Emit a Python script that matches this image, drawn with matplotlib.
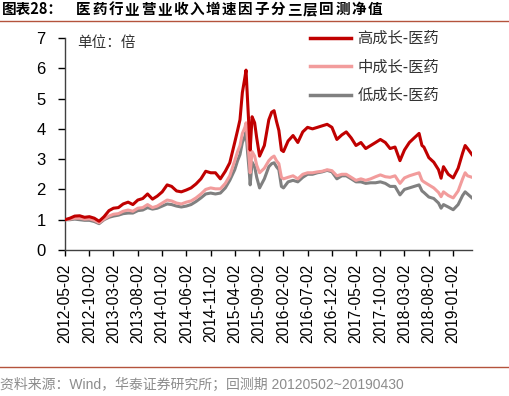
import matplotlib
matplotlib.use('Agg')
import matplotlib.pyplot as plt
import matplotlib.dates as mdates
import pandas as pd

# 回测净值（按图读数，约每月一个点，2015年加密）
dates = [
    '2012-05-02', '2012-06-02', '2012-07-02', '2012-08-02', '2012-09-02', '2012-10-02',
    '2012-11-02', '2012-12-02', '2013-01-02', '2013-02-02', '2013-03-02', '2013-04-02',
    '2013-05-02', '2013-06-02', '2013-07-02', '2013-08-02', '2013-09-02', '2013-10-02',
    '2013-11-02', '2013-12-02', '2014-01-02', '2014-02-02', '2014-03-02', '2014-04-02',
    '2014-05-02', '2014-06-02', '2014-07-02', '2014-08-02', '2014-09-02', '2014-10-02',
    '2014-11-02', '2014-12-02', '2015-01-02', '2015-02-02', '2015-03-02', '2015-04-02',
    '2015-04-20', '2015-05-05', '2015-05-20', '2015-06-05', '2015-06-12', '2015-06-22',
    '2015-07-02', '2015-07-08', '2015-07-20', '2015-08-05', '2015-08-18', '2015-09-05',
    '2015-10-05', '2015-11-02', '2015-11-20', '2015-12-05', '2015-12-20', '2016-01-04',
    '2016-01-20', '2016-02-02', '2016-03-02', '2016-04-02', '2016-05-02', '2016-06-02',
    '2016-07-02', '2016-08-02', '2016-09-02', '2016-10-02', '2016-11-02', '2016-12-02',
    '2017-01-02', '2017-02-02', '2017-03-02', '2017-04-02', '2017-05-02', '2017-06-02',
    '2017-07-02', '2017-08-02', '2017-09-02', '2017-10-02', '2017-11-02', '2017-12-02',
    '2018-01-02', '2018-02-02', '2018-03-02', '2018-04-02', '2018-05-02', '2018-06-02',
    '2018-06-20', '2018-07-02', '2018-08-02', '2018-09-02', '2018-10-02', '2018-10-18',
    '2018-11-02', '2018-12-02', '2019-01-02', '2019-02-02', '2019-03-02', '2019-03-18',
    '2019-04-02', '2019-04-30',
]
high = [
    1.00, 1.05, 1.12, 1.13, 1.08, 1.10, 1.05, 0.95, 1.10, 1.30, 1.38, 1.40,
    1.52, 1.58, 1.50, 1.65, 1.70, 1.85, 1.68, 1.78, 1.92, 2.15, 2.10, 1.95,
    1.92, 1.98, 2.05, 2.18, 2.35, 2.60, 2.55, 2.55, 2.35, 2.60, 2.88, 3.55,
    3.95, 4.30, 5.20, 5.70, 5.94, 4.90, 3.90, 3.30, 4.40, 4.20, 3.70, 3.10,
    3.45, 4.30, 4.55, 4.60, 4.25, 3.95, 3.30, 3.25, 3.60, 3.78, 3.55, 3.90,
    4.05, 4.00, 4.05, 4.10, 4.15, 4.05, 3.65, 3.80, 3.90, 3.70, 3.45, 3.55,
    3.35, 3.45, 3.55, 3.65, 3.55, 3.35, 3.40, 2.95, 3.30, 3.55, 3.70, 3.85,
    3.45, 3.40, 3.05, 2.90, 2.65, 2.37, 2.75, 2.50, 2.38, 2.70, 3.20, 3.45,
    3.35, 3.15,
]
mid = [
    1.00, 1.02, 1.05, 1.05, 1.02, 1.03, 0.98, 0.90, 1.02, 1.12, 1.18, 1.20,
    1.28, 1.32, 1.28, 1.38, 1.40, 1.50, 1.40, 1.45, 1.55, 1.65, 1.62, 1.55,
    1.52, 1.58, 1.62, 1.72, 1.85, 2.00, 2.05, 2.02, 2.02, 2.20, 2.45, 2.95,
    3.25, 3.45, 3.85, 4.05, 4.20, 3.60, 3.00, 2.55, 3.25, 3.10, 2.80, 2.55,
    2.70, 2.95, 3.05, 3.10, 2.95, 2.85, 2.40, 2.35, 2.40, 2.45, 2.35, 2.50,
    2.55, 2.55, 2.58, 2.60, 2.65, 2.62, 2.45, 2.50, 2.50, 2.40, 2.30, 2.35,
    2.30, 2.35, 2.42, 2.48, 2.42, 2.40, 2.45, 2.20, 2.38, 2.45, 2.50, 2.55,
    2.30, 2.25, 2.15, 2.05, 1.90, 1.76, 1.92, 1.80, 1.72, 1.95, 2.35, 2.55,
    2.45, 2.40,
]
low = [
    1.00, 1.00, 1.02, 1.00, 0.98, 0.98, 0.94, 0.87, 1.00, 1.08, 1.12, 1.15,
    1.20, 1.22, 1.22, 1.30, 1.32, 1.40, 1.35, 1.38, 1.45, 1.52, 1.50, 1.45,
    1.42, 1.45, 1.50, 1.60, 1.72, 1.85, 1.88, 1.85, 1.88, 2.05, 2.30, 2.65,
    2.95, 3.15, 3.55, 3.75, 3.90, 3.20, 2.60, 2.15, 2.90, 2.75, 2.40, 2.05,
    2.35, 2.75, 2.85, 2.88, 2.75, 2.65, 2.10, 2.05, 2.25, 2.30, 2.25, 2.40,
    2.50, 2.50, 2.55, 2.58, 2.63, 2.58, 2.35, 2.45, 2.45, 2.35, 2.25, 2.25,
    2.20, 2.22, 2.22, 2.25, 2.20, 2.10, 2.10, 1.82, 2.00, 2.05, 2.10, 2.15,
    1.95, 1.90, 1.75, 1.70, 1.55, 1.38, 1.50, 1.42, 1.33, 1.50, 1.80, 1.92,
    1.85, 1.72,
]
series_names = ['高成长-医药', '中成长-医药', '低成长-医药']
series_colors = ['#C00000', '#F29C9C', '#808080']
tick_dates = ['2012-05-02', '2012-10-02', '2013-03-02', '2013-08-02', '2014-01-02',
              '2014-06-02', '2014-11-02', '2015-04-02', '2015-09-02', '2016-02-02',
              '2016-07-02', '2016-12-02', '2017-05-02', '2017-10-02', '2018-03-02',
              '2018-08-02', '2019-01-02']

CJK = ['Noto Sans CJK SC', 'DejaVu Sans']
LAT = ['Liberation Sans', 'Noto Sans CJK SC']

W, H = 510, 396
fig = plt.figure(figsize=(W / 100, H / 100), dpi=100)
ax = fig.add_axes([65 / W, 1 - 250 / H, (472 - 65) / W, (250 - 38) / H])

x = pd.to_datetime(dates)
values = [high, mid, low]
for i in [2, 1, 0]:
    ax.plot(x, values[i], color=series_colors[i], lw=2.2, label=series_names[i], zorder=3 + (2 - i))

ax.set_ylim(0, 7)
ax.set_xlim(pd.Timestamp('2012-05-02'), pd.Timestamp('2019-04-30'))
ax.set_yticks(range(0, 8))
ax.set_xticks(pd.to_datetime(tick_dates))
ax.xaxis.set_major_formatter(mdates.DateFormatter('%Y-%m-%d'))
for lab in ax.get_yticklabels():
    lab.set_family(LAT)
    lab.set_fontsize(12)
for lab in ax.get_xticklabels():
    lab.set_family(LAT)
    lab.set_fontsize(11.2)
    lab.set_rotation(90)
ax.tick_params(axis='y', direction='out', length=5, width=1, pad=9, colors='#000000')
ax.tick_params(axis='x', direction='out', length=4, width=1, pad=6, colors='#000000')
for s in ['top', 'right']:
    ax.spines[s].set_visible(False)
for s in ['left', 'bottom']:
    ax.spines[s].set_color('#404040')
    ax.spines[s].set_linewidth(1.0)

ax.text(77 / W, 1 - 43 / H, '单位：倍', transform=fig.transFigure, family=CJK,
        fontsize=10.5, va='center', ha='left', color='#333333')

handles, labels = ax.get_legend_handles_labels()
order = [2, 1, 0]
leg = ax.legend([handles[i] for i in order], [labels[i] for i in order],
                loc='upper left', bbox_to_anchor=(310 / W, 1 - 30 / H),
                bbox_transform=fig.transFigure, frameon=False,
                prop={'family': CJK, 'size': 11}, handlelength=2.7,
                handletextpad=0.4, labelspacing=0.75, borderaxespad=0, borderpad=0)
for h in leg.get_lines():
    h.set_linewidth(2.5)
for t in leg.get_texts():
    t.set_color('#333333')

# 标题（逐字排版，字距略宽）
fig.text(2 / W, 1 - 9 / H, '图表28：', family=CJK, fontsize=10.5, fontweight='bold',
         va='center', ha='left', color='#000000')
title = '医药行业营业收入增速因子分三层回测净值'
for k, ch in enumerate(title):
    fig.text((76 + 16.2 * k) / W, 1 - 9 / H, ch, family=CJK, fontsize=10.5,
             fontweight='bold', va='center', ha='left', color='#000000')

line_color = '#B4533C'
fig.add_artist(plt.Line2D([0, 1], [1 - 21 / H, 1 - 21 / H], transform=fig.transFigure,
                          color=line_color, lw=1.0))
fig.add_artist(plt.Line2D([0, 1], [1 - 367 / H, 1 - 367 / H], transform=fig.transFigure,
                          color=line_color, lw=1.0))

fig.text(0, 1 - 385 / H, '资料来源：Wind，华泰证券研究所；回测期 20120502~20190430',
         family=LAT, fontsize=10, va='center', ha='left', color='#8C8C8C')

fig.savefig('out.png', dpi=100)
